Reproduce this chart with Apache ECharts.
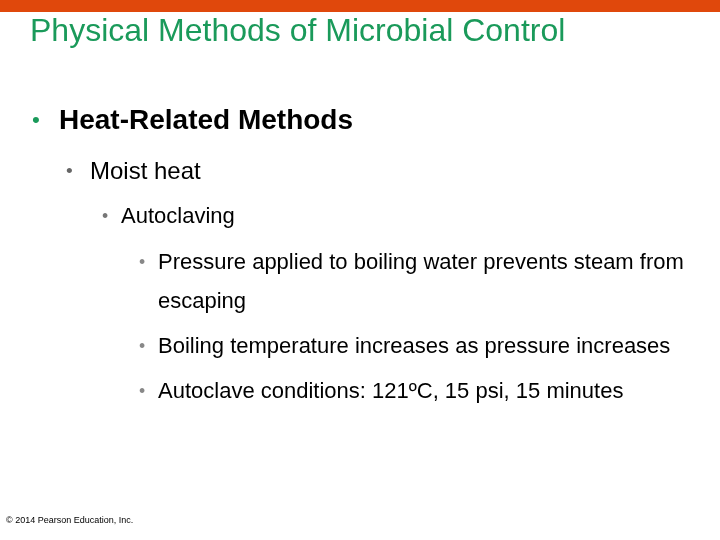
<!DOCTYPE html>
<html><head><meta charset="utf-8">
<script src="https://cdn.jsdelivr.net/npm/echarts@6/dist/echarts.min.js"></script>
<style>html,body{margin:0;padding:0;background:#fff}#main{width:720px;height:540px}</style>
</head><body><div id="main"></div>
<script>
var titleText = 'Physical Methods of Microbial Control'
var lineTexts = [
	'Heat-Related Methods',
	'Moist heat',
	'Autoclaving',
	'Pressure applied to boiling water prevents steam from',
	'escaping',
	'Boiling temperature increases as pressure increases',
	'Autoclave conditions: 121ºC, 15 psi, 15 minutes'
]
var lineLevels = [1, 2, 3, 4, 0, 4, 4]
var lineY = [121, 172, 217, 263, 302, 347, 392]
var footerText = '© 2014 Pearson Education, Inc.'

var levelStyle = {
	0: { x: 158, size: 22, weight: 'normal', bulletColor: null },
	1: { x: 59, size: 28, weight: 'bold', bulletColor: '#1a9a5a', bx: 32 },
	2: { x: 90, size: 24, weight: 'normal', bulletColor: '#666', bx: 66 },
	3: { x: 121, size: 22, weight: 'normal', bulletColor: '#777', bx: 102 },
	4: { x: 158, size: 22, weight: 'normal', bulletColor: '#888', bx: 139 }
}

var elements = [
	{ type: 'rect', shape: { x: 0, y: 0, width: 720, height: 12 }, style: { fill: '#e0480c' } },
	{ type: 'text', x: 30, y: 32, style: { text: titleText, font: '32px "Liberation Sans", Arial, sans-serif', fill: '#1a9a5a', verticalAlign: 'middle' } },
	{ type: 'text', x: 6, y: 521, style: { text: footerText, font: '9px "Liberation Sans", Arial, sans-serif', fill: '#000', verticalAlign: 'middle' } }
]
lineTexts.forEach(function (t, i) {
	var s = levelStyle[lineLevels[i]]
	if (s.bulletColor) {
		elements.push({ type: 'text', x: s.bx, y: lineY[i], style: { text: '•', font: s.size * 0.8 + 'px "Liberation Sans", Arial, sans-serif', fill: s.bulletColor, verticalAlign: 'middle' } })
	}
	elements.push({ type: 'text', x: s.x, y: lineY[i], style: { text: t, font: s.weight + ' ' + s.size + 'px "Liberation Sans", Arial, sans-serif', fill: '#000', verticalAlign: 'middle' } })
})

var myChart = echarts.init(document.getElementById('main'))
myChart.setOption({ animation: false, graphic: { elements: elements } })
</script></body></html>
